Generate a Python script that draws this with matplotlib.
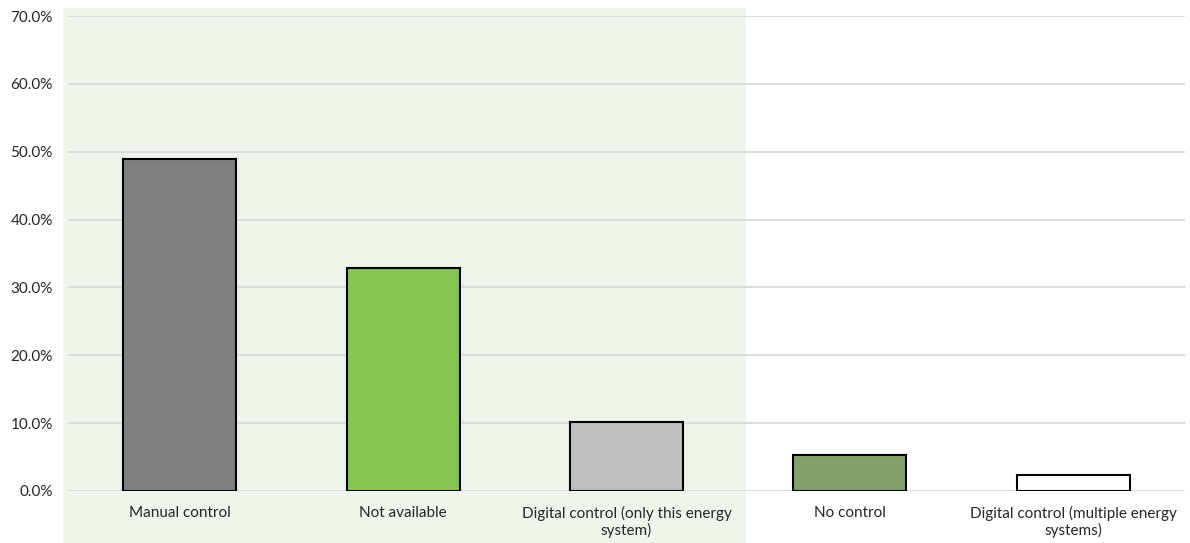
import matplotlib.pyplot as plt
from matplotlib.patches import Rectangle
from matplotlib.ticker import FuncFormatter, MultipleLocator

categories = [
    "Manual control",
    "Not available",
    "Digital control (only this energy\nsystem)",
    "No control",
    "Digital control (multiple energy\nsystems)",
]
shares = [48.9, 32.9, 10.2, 5.3, 2.4]
bar_colors = ["#7F7F7F", "#86C551", "#BFBFBF", "#82A16A", "#FFFFFF"]

plt.rcParams["font.family"] = ["Lato", "DejaVu Sans"]

fig = plt.figure(figsize=(11.9, 5.43), dpi=100)
W, H = 1190, 543

ax = fig.add_axes([68 / W, 1 - 491 / H, (1185 - 68) / W, (491 - 16) / H])
ax.set_facecolor("none")

# Light green highlight panel behind the first three categories
ax.add_patch(Rectangle((63 / W, 0), (746 - 63) / W, 1 - 8 / H,
                       transform=fig.transFigure, facecolor="#EFF5EB",
                       edgecolor="none", zorder=0, clip_on=False))

x = range(len(categories))
ax.bar(x, shares, width=0.505, color=bar_colors, edgecolor="black",
       linewidth=1.5, zorder=3)

ax.set_xlim(-0.5, len(categories) - 0.5)
ax.set_ylim(0, 70)
ax.yaxis.set_major_locator(MultipleLocator(10))
ax.yaxis.set_major_formatter(FuncFormatter(lambda v, _: f"{v:.1f}%"))
ax.grid(axis="y", color="#D9D9D9", linewidth=1.3, zorder=1)
for s in ax.spines.values():
    s.set_visible(False)

ax.set_xticks(list(x))
ax.set_xticklabels(categories, fontsize=11, color="#262626", linespacing=1.15)
ax.tick_params(axis="x", length=0, pad=11)
ax.tick_params(axis="y", length=0, pad=11, labelsize=11, labelcolor="#262626")

fig.savefig("out.png", dpi=100)
